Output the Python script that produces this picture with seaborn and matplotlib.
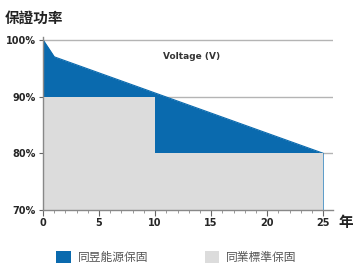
import matplotlib
matplotlib.use("Agg")
import matplotlib.pyplot as plt
from matplotlib.patches import Patch
import seaborn as sns
import pandas as pd

# warranty curves (years vs guaranteed power %)
ours_years = [0, 1, 25]
ours_power = [100, 97, 80]
std_years = [0, 10, 10, 25]
std_power = [90, 90, 80, 80]
x_ticks = [0, 5, 10, 15, 20, 25]
y_ticks = [70, 80, 90, 100]
y_labels = ['70%', '80%', '90%', '100%']
legend_labels = ['同昱能源保固', '同業標準保固']

blue = '#0a6aae'
grey = '#dcdcdc'

sns.set_theme(style="ticks")
plt.rcParams['font.family'] = ['Noto Sans CJK TC', 'DejaVu Sans']

fig = plt.figure(figsize=(3.53, 2.67), dpi=100)
ax = fig.add_axes([0.122, 0.2135, 0.822, 0.648])

df = pd.DataFrame({'year': ours_years, 'power': ours_power})
ax.fill_between(ours_years, ours_power, 70, color=blue, lw=0, zorder=2)
sns.lineplot(data=df, x='year', y='power', ax=ax, color=blue, lw=0.8, zorder=3)
ax.fill_between(std_years, std_power, 70, color=grey, lw=0, zorder=4)

for y in [80, 90, 100]:
    ax.axhline(y, color='#b4b4b4', lw=1, zorder=1)

ax.set_xlim(0, 25.9)
ax.set_ylim(70, 100.5)
ax.set_xticks(x_ticks)
ax.set_xticks(range(0, 26), minor=True)
ax.set_yticks(y_ticks)
ax.set_yticklabels(y_labels)
ax.tick_params(axis='x', which='major', direction='out', length=4, width=0.8,
               color='#666666', labelsize=7, pad=2, bottom=True)
ax.tick_params(axis='x', which='minor', direction='out', length=2.5, width=0.6,
               color='#888888', bottom=True)
ax.tick_params(axis='y', which='major', direction='out', length=3, width=0.8,
               color='#666666', labelsize=7, pad=2, left=True)
for lab in ax.get_xticklabels() + ax.get_yticklabels():
    lab.set_fontweight('bold')
    lab.set_family(['DejaVu Sans'])

for s in ['top', 'right']:
    ax.spines[s].set_visible(False)
for s in ['left', 'bottom']:
    ax.spines[s].set_color('#888888')
    ax.spines[s].set_linewidth(1)
    ax.spines[s].set_zorder(6)
ax.set_xlabel('')
ax.set_ylabel('')

ax.text(10.7, 97.1, 'Voltage (V)', fontsize=6.5, fontweight='bold',
        color='#333333', family=['DejaVu Sans'], va='center')

fig.text(0.012, 0.915, '保證功率', fontsize=10.5, fontweight='bold', color='#222222')
fig.text(0.958, 0.148, '年', fontsize=10.5, fontweight='bold', color='#222222')

handles = [Patch(facecolor=blue, edgecolor='none'), Patch(facecolor=grey, edgecolor='none')]
fig.legend(handles, legend_labels, loc='center', bbox_to_anchor=(0.5, 0.035), ncol=2,
           frameon=False, fontsize=8.5, handlelength=1.2, handleheight=1.2,
           columnspacing=4.8, handletextpad=0.6, labelcolor='#555555')

fig.savefig('out.png', dpi=100)
